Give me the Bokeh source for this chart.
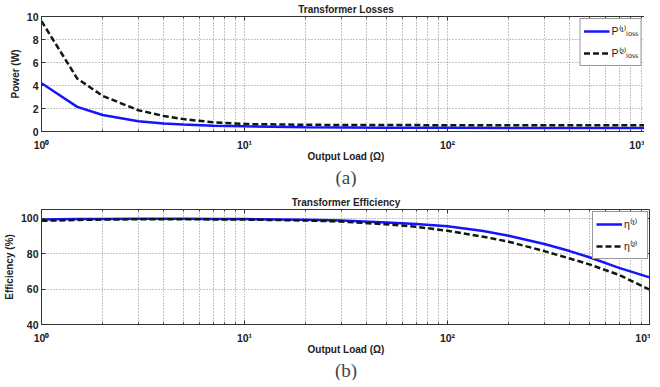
from bokeh.plotting import figure
from bokeh.layouts import column
from bokeh.models import FixedTicker, Title, Legend, LegendItem, LogAxis, LinearAxis
from bokeh.embed import file_html
from bokeh.resources import INLINE

# ---- data ----
load_a = [1, 1.5, 2, 3, 4, 5, 7, 10, 20, 50, 100, 200, 500, 1000]
ploss1 = [4.2, 2.14, 1.43, 0.9, 0.7, 0.6, 0.5, 0.45, 0.38, 0.33, 0.32, 0.31, 0.3, 0.3]
ploss2 = [9.6, 4.6, 3.1, 1.85, 1.35, 1.08, 0.8, 0.65, 0.58, 0.56, 0.55, 0.55, 0.55, 0.55]

load_b = [1, 1.5, 2, 3, 5, 7, 10, 20, 30, 50, 70, 100, 150, 200, 300, 400, 500, 700, 1000]
eta1 = [99.4, 99.6, 99.7, 99.8, 99.8, 99.7, 99.6, 99.2, 98.8, 97.6, 96.8, 95.5, 92.8, 90.2, 85.5, 81.5, 78.0, 72.0, 66.5]
eta2 = [98.6, 99.1, 99.3, 99.5, 99.5, 99.4, 99.3, 98.8, 98.2, 96.6, 95.2, 93.0, 89.6, 86.8, 81.5, 77.3, 74.0, 68.0, 59.5]

x_major = [1, 10, 100, 1000]
x_labels = {1: "10\u2070", 10: "10\u00b9", 100: "10\u00b2", 1000: "10\u00b3"}
y_ticks_a = [0, 2, 4, 6, 8, 10]
y_ticks_b = [40, 60, 80, 100]

FONT = "Liberation Sans"
INK = "#222222"
x_minor = [m * d for d in [1, 10, 100] for m in range(2, 10)]


def tick_style(ax):
    ax.major_tick_in = 4
    ax.major_tick_out = 0
    ax.minor_tick_in = 2
    ax.minor_tick_out = 0
    ax.axis_line_color = "#333333"
    ax.major_tick_line_color = "#333333"
    ax.minor_tick_line_color = "#333333"


def style(p, yticks, xlabel, ylabel):
    p.xaxis.ticker = FixedTicker(ticks=x_major, minor_ticks=x_minor)
    p.xaxis.major_label_overrides = x_labels
    p.yaxis.ticker = FixedTicker(ticks=yticks)
    for ax in (p.xaxis, p.yaxis):
        ax.major_label_text_font = FONT
        ax.major_label_text_font_size = "10.5px"
        ax.major_label_text_font_style = "bold"
        ax.major_label_text_color = INK
        ax.axis_label_text_font = FONT
        ax.axis_label_text_font_size = "10px"
        ax.axis_label_text_font_style = "bold"
        ax.axis_label_text_color = INK
        tick_style(ax)
    p.yaxis.major_label_standoff = 3
    p.yaxis.axis_label_standoff = 3
    p.xaxis.major_label_standoff = 7
    p.xaxis.axis_label_standoff = -3
    p.yaxis.minor_tick_line_color = None
    p.xaxis.axis_label = xlabel
    p.yaxis.axis_label = ylabel
    p.xgrid.ticker = FixedTicker(ticks=x_major, minor_ticks=x_minor)
    p.ygrid.ticker = FixedTicker(ticks=yticks)
    for g in (p.xgrid, p.ygrid):
        g.grid_line_color = "#8a8a8a"
        g.grid_line_dash = "1 2"
        g.grid_line_width = 1
    p.xgrid.minor_grid_line_color = "#8a8a8a"
    p.xgrid.minor_grid_line_dash = "1 2"
    p.outline_line_color = "#333333"
    p.outline_line_alpha = 1
    p.title.text_font = FONT
    p.title.text_font_size = "10px"
    p.title.text_font_style = "bold"
    p.title.align = "center"
    p.title.standoff = 3
    p.title.text_color = INK
    # MATLAB-style box ticks on top and right (labels invisible)
    top = LogAxis(ticker=FixedTicker(ticks=x_major, minor_ticks=x_minor),
                  major_label_text_font_size="1px", major_label_text_color=None,
                  major_label_standoff=0)
    tick_style(top)
    top.axis_line_color = None
    right = LinearAxis(ticker=FixedTicker(ticks=yticks),
                       major_label_text_font_size="1px", major_label_text_color=None,
                       major_label_standoff=0)
    tick_style(right)
    right.axis_line_color = None
    right.minor_tick_line_color = None
    p.add_layout(top, "above")
    p.add_layout(right, "right")


def make(title, yr, yticks, ylabel, xs, s1, s2, lab1, lab2, tag, border_top):
    p = figure(frame_width=609, frame_height=115, x_axis_type="log", x_range=(1, 1000),
               y_range=yr, output_backend="svg", toolbar_location=None,
               title=title, min_border_left=35, min_border_right=0,
               min_border_top=border_top, min_border_bottom=0)
    style(p, yticks, "Output Load (\u03a9)", ylabel)
    r1 = p.line(xs, s1, line_color="#1414ff", line_width=2.5)
    r2 = p.line(xs, s2, line_color="#0d1a0d", line_width=2.5, line_dash="6 3")
    leg = Legend(items=[LegendItem(label=lab1, renderers=[r1]),
                        LegendItem(label=lab2, renderers=[r2])],
                 location="top_right")
    leg.label_text_font = FONT
    leg.label_text_font_size = "10.5px"
    leg.label_text_color = INK
    leg.glyph_width = 26
    leg.glyph_height = 18
    leg.label_standoff = 2
    leg.spacing = 4
    leg.padding = 3
    leg.margin = 2
    leg.border_line_color = "#333333"
    leg.border_line_width = 1
    leg.background_fill_alpha = 1
    p.add_layout(leg)
    p.add_layout(Title(text=tag, text_font="Liberation Serif", text_font_size="19px",
                       align="center", text_font_style="normal", standoff=0), "below")
    return p


p1 = make("Transformer Losses", (0, 10), y_ticks_a, "Power (W)", load_a, ploss1, ploss2,
          "P\u207d\u00b9\u207e\u2097\u2092\u209b\u209b", "P\u207d\u00b2\u207e\u2097\u2092\u209b\u209b", "(a)", 0)
p2 = make("Transformer Efficiency", (40, 105), y_ticks_b, "Efficiency (%)", load_b, eta1, eta2,
          "\u03b7\u207d\u00b9\u207e", "\u03b7\u207d\u00b2\u207e", "(b)", 22)

layout = column(p1, p2, spacing=0)
open("out.html", "w").write(file_html(layout, INLINE))
